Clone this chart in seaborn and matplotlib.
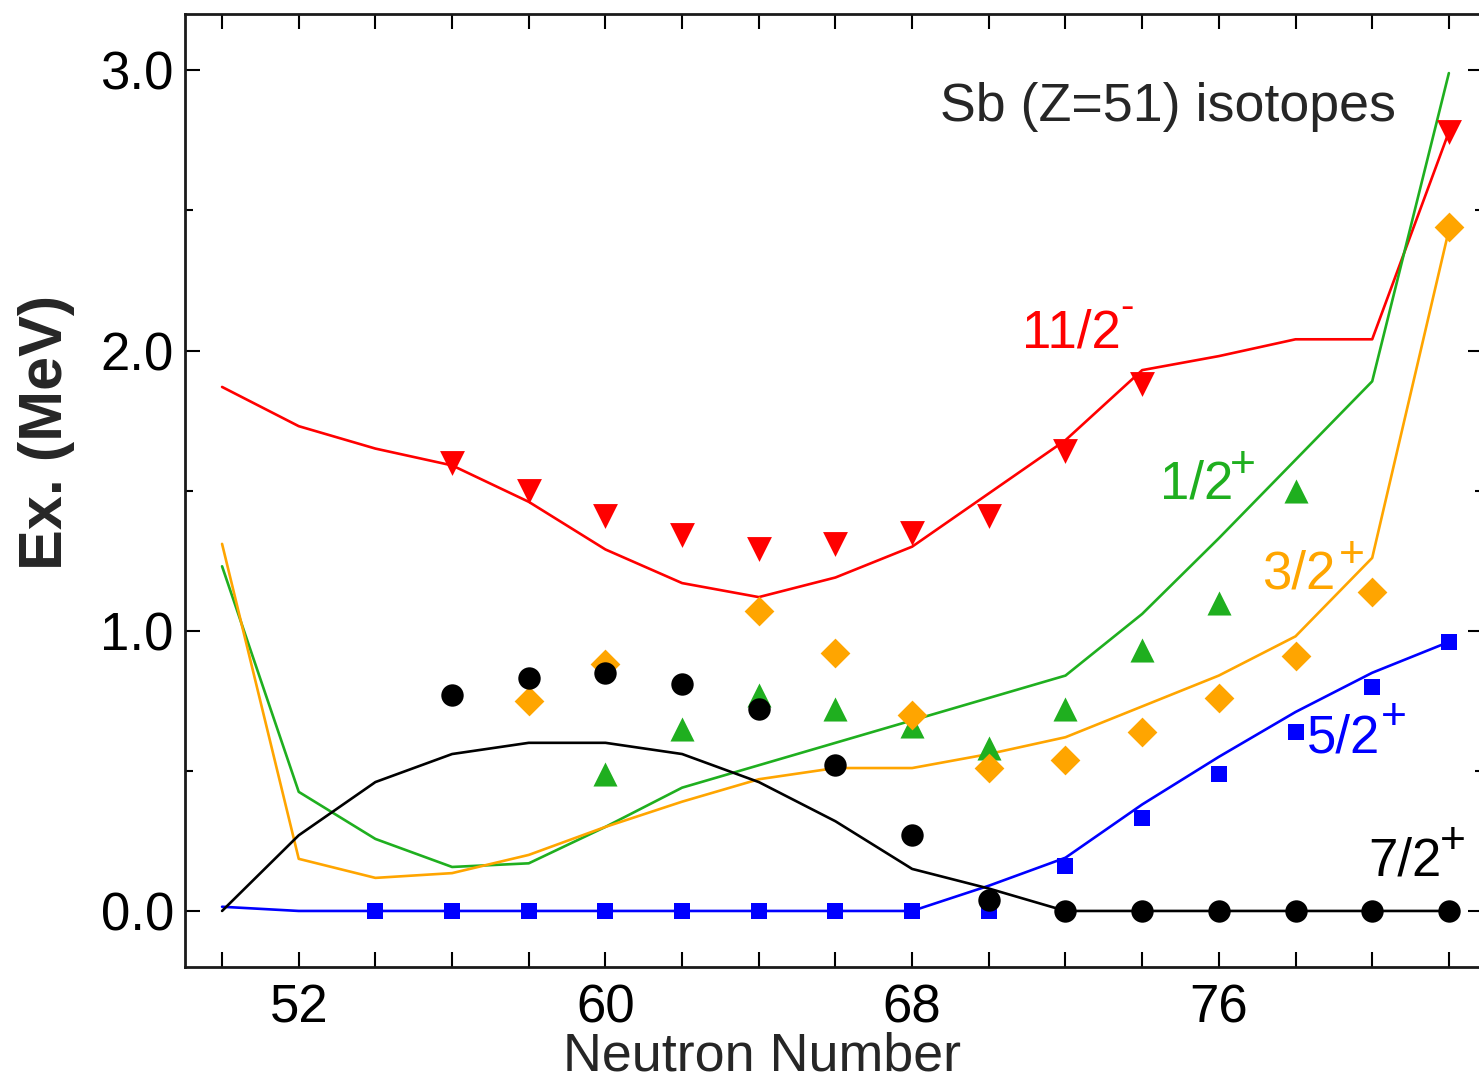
import numpy as np
import pandas as pd
import matplotlib
matplotlib.use('Agg')
import matplotlib.pyplot as plt
import seaborn as sns

# neutron numbers for the calculated curves
n_calc = [50, 52, 54, 56, 58, 60, 62, 64, 66, 68, 70, 72, 74, 76, 78, 80, 82]

# calculated levels (MeV)
calc_11m = [1.87, 1.73, 1.65, 1.59, 1.46, 1.29, 1.17, 1.12, 1.19, 1.30, 1.49, 1.68, 1.93, 1.98, 2.04, 2.04, 2.78]
calc_1p = [1.23, 0.425, 0.257, 0.157, 0.17, 0.30, 0.44, 0.52, 0.60, 0.68, 0.76, 0.84, 1.06, 1.33, 1.61, 1.89, 2.99]
calc_3p = [1.31, 0.186, 0.118, 0.135, 0.20, 0.30, 0.39, 0.47, 0.51, 0.51, 0.56, 0.62, 0.73, 0.84, 0.98, 1.26, 2.43]
calc_5p = [0.015, 0.0, 0.0, 0.0, 0.0, 0.0, 0.0, 0.0, 0.0, 0.0, 0.09, 0.19, 0.38, 0.55, 0.71, 0.85, 0.96]
calc_7p = [0.0, 0.27, 0.46, 0.56, 0.60, 0.60, 0.56, 0.46, 0.32, 0.15, 0.08, 0.0, 0.0, 0.0, 0.0, 0.0, 0.0]

# experimental levels (MeV)
n_exp_11m = [56, 58, 60, 62, 64, 66, 68, 70, 72, 74, 82]
exp_11m = [1.60, 1.50, 1.41, 1.34, 1.29, 1.31, 1.35, 1.41, 1.64, 1.88, 2.78]
n_exp_1p = [60, 62, 64, 66, 68, 70, 72, 74, 76, 78]
exp_1p = [0.49, 0.65, 0.77, 0.72, 0.66, 0.58, 0.72, 0.93, 1.10, 1.50]
n_exp_3p = [58, 60, 64, 66, 68, 70, 72, 74, 76, 78, 80, 82]
exp_3p = [0.75, 0.88, 1.07, 0.92, 0.70, 0.51, 0.54, 0.64, 0.76, 0.91, 1.14, 2.44]
n_exp_5p = [54, 56, 58, 60, 62, 64, 66, 68, 70, 72, 74, 76, 78, 80, 82]
exp_5p = [0.0, 0.0, 0.0, 0.0, 0.0, 0.0, 0.0, 0.0, 0.0, 0.16, 0.33, 0.49, 0.64, 0.80, 0.96]
n_exp_7p = [56, 58, 60, 62, 64, 66, 68, 70, 72, 74, 76, 78, 80, 82]
exp_7p = [0.77, 0.83, 0.85, 0.81, 0.72, 0.52, 0.27, 0.04, 0.0, 0.0, 0.0, 0.0, 0.0, 0.0]

sns.set_theme(style='ticks')
plt.rcParams['font.family'] = ['Liberation Sans', 'DejaVu Sans']

fig = plt.figure(figsize=(14.79, 10.79), dpi=100)
ax = fig.add_axes([0.125, 0.1038, 0.8777, 0.883])

red = '#ff0000'
green = '#1faf1f'
orange = '#ffa500'
blue = '#0000ff'
black = '#000000'

calc = [(calc_11m, red), (calc_1p, green), (calc_3p, orange), (calc_5p, blue), (calc_7p, black)]
for vals, col in calc:
    df = pd.DataFrame({'N': n_calc, 'E': vals})
    sns.lineplot(data=df, x='N', y='E', color=col, linewidth=1.9, ax=ax)

exps = [
    (n_exp_11m, exp_11m, red, 'v', 320),
    (n_exp_1p, exp_1p, green, '^', 300),
    (n_exp_3p, exp_3p, orange, 'D', 230),
    (n_exp_5p, exp_5p, blue, 's', 120),
    (n_exp_7p, exp_7p, black, 'o', 260),
]
for nn, vals, col, mk, sz in exps:
    df = pd.DataFrame({'N': nn, 'E': vals})
    sns.scatterplot(data=df, x='N', y='E', color=col, marker=mk, s=sz,
                    linewidth=0, ax=ax, zorder=3)

ax.set_xlim(49.03, 82.89)
ax.set_ylim(-0.2, 3.2)
ax.set_xticks([52, 60, 68, 76])
ax.set_xticks(np.arange(50, 83, 2), minor=True)
ax.set_yticks([0, 1, 2, 3])
ax.set_yticklabels(['0.0', '1.0', '2.0', '3.0'])
ax.set_yticks([0.5, 1.5, 2.5], minor=True)

ax.tick_params(axis='both', which='both', direction='in', top=True, right=True,
               width=1.5, colors='black', labelsize=38)
ax.tick_params(axis='x', which='both', length=11, pad=12)
ax.tick_params(axis='y', which='major', length=11, pad=8)
ax.tick_params(axis='y', which='minor', length=6)
for sp in ax.spines.values():
    sp.set_linewidth(2)
    sp.set_color('#1a1a1a')

ax.set_xlabel('Neutron Number', fontsize=38.8)
ax.xaxis.set_label_coords(0.4445, -0.068)
ax.set_ylabel('Ex. (MeV)', fontsize=44, fontweight='bold')
ax.yaxis.set_label_coords(-0.0847, 0.561)

ax.text(68.72, 2.818, 'Sb (Z=51) isotopes', fontsize=38.7, va='baseline', ha='left')

# level labels, with their parity signs as separate smaller texts
ax.text(70.86, 2.01, '11/2', fontsize=38, color=red, va='baseline', ha='left')
ax.text(73.60, 2.115, '-', fontsize=29, color=red, va='baseline', ha='center')
ax.text(74.46, 1.473, '1/2', fontsize=38, color=green, va='baseline', ha='left')
ax.text(76.62, 1.550, '+', fontsize=32, color=green, va='baseline', ha='center')
ax.text(77.12, 1.152, '3/2', fontsize=38, color=orange, va='baseline', ha='left')
ax.text(79.47, 1.229, '+', fontsize=32, color=orange, va='baseline', ha='center')
ax.text(78.30, 0.564, '5/2', fontsize=38, color=blue, va='baseline', ha='left')
ax.text(80.56, 0.651, '+', fontsize=32, color=blue, va='baseline', ha='center')
ax.text(79.89, 0.128, '7/2', fontsize=38, color=black, va='baseline', ha='left')
ax.text(82.10, 0.208, '+', fontsize=32, color=black, va='baseline', ha='center')

fig.savefig('out.png', dpi=100)
